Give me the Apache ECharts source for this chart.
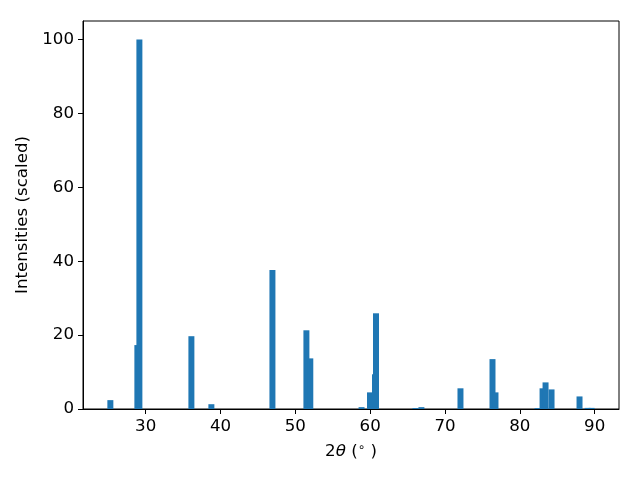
<!DOCTYPE html>
<html>
<head>
<meta charset="utf-8">
<script src="https://cdn.jsdelivr.net/npm/echarts@6/dist/echarts.min.js"></script>
<style>html,body{margin:0;padding:0;background:#fff}#c{width:640px;height:480px}</style>
</head>
<body>
<div id="c"></div>
<script>
// Peak positions (2θ, degrees) and scaled intensities
const positions = [25.28, 28.89, 29.16, 36.11, 38.78, 46.94, 51.48, 52.0, 58.85, 59.98, 60.65, 60.78, 66.05, 66.85, 72.07, 76.35, 76.75, 82.37, 83.04, 83.44, 84.24, 87.98, 89.06, 89.6];
const intensities = [2.4, 17.3, 100, 19.7, 1.3, 37.6, 21.3, 13.7, 0.5, 4.5, 9.4, 25.9, 0.25, 0.5, 5.6, 13.5, 4.5, 0.25, 5.6, 7.2, 5.3, 3.4, 0.3, 0.3];
const xTicks = [30, 40, 50, 60, 70, 80, 90];
const yTicks = [0, 20, 40, 60, 80, 100];

const barWidth = 0.8;
const lo = Math.min(...positions) - barWidth / 2;
const hi = Math.max(...positions) + barWidth / 2;
const pad = (hi - lo) * 0.05;
const xMin = lo - pad, xMax = hi + pad;

const data = positions.map((p, i) => [p, intensities[i]]);
const font = 'DejaVu Sans';
const fs = 16.67;

const chart = echarts.init(document.getElementById('c'), null, {renderer: 'canvas'});
chart.setOption({
  animation: false,
  backgroundColor: '#fff',
  grid: {left: 83, right: 21, top: 21, bottom: 71, show: true, borderColor: '#000', borderWidth: 1, backgroundColor: 'transparent'},
  xAxis: {
    type: 'value', min: xMin, max: xMax,
    axisLine: {show: true, onZero: false, lineStyle: {color: '#000', width: 1}},
    axisTick: {show: true, inside: false, length: 5, lineStyle: {color: '#000'}, customValues: xTicks},
    axisLabel: {color: '#000', fontSize: fs, fontFamily: font, margin: 9, customValues: xTicks},
    splitLine: {show: false},
    name: '{n|2}{i|θ}{n| (}{s|∘}{n| )}',
    nameLocation: 'middle', nameGap: 33,
    nameTextStyle: {
      rich: {
        n: {fontSize: fs, fontFamily: font, color: '#000'},
        i: {fontSize: fs, fontFamily: font, fontStyle: 'italic', color: '#000'},
        s: {fontSize: 12, fontFamily: font, color: '#000', verticalAlign: 'top', padding: [0, 0, 7, 0]}
      }
    }
  },
  yAxis: {
    type: 'value', min: 0, max: 105,
    axisLine: {show: true, lineStyle: {color: '#000', width: 1}},
    axisTick: {show: true, inside: false, length: 5, lineStyle: {color: '#000'}, customValues: yTicks},
    axisLabel: {color: '#000', fontSize: fs, fontFamily: font, margin: 9, customValues: yTicks},
    splitLine: {show: false},
    name: 'Intensities (scaled)', nameLocation: 'middle', nameGap: 47,
    nameTextStyle: {color: '#000', fontSize: fs, fontFamily: font}
  },
  series: [{
    type: 'custom',
    data: data,
    encode: {x: 0, y: 1},
    renderItem: function (params, api) {
      const x = api.value(0), h = api.value(1);
      const p1 = api.coord([x - barWidth / 2, h]);
      const p2 = api.coord([x + barWidth / 2, 0]);
      return {
        type: 'rect',
        shape: {x: p1[0], y: p1[1], width: p2[0] - p1[0], height: p2[1] - p1[1]},
        style: {fill: '#1f77b4'}
      };
    }
  }]
});
</script>
</body>
</html>
